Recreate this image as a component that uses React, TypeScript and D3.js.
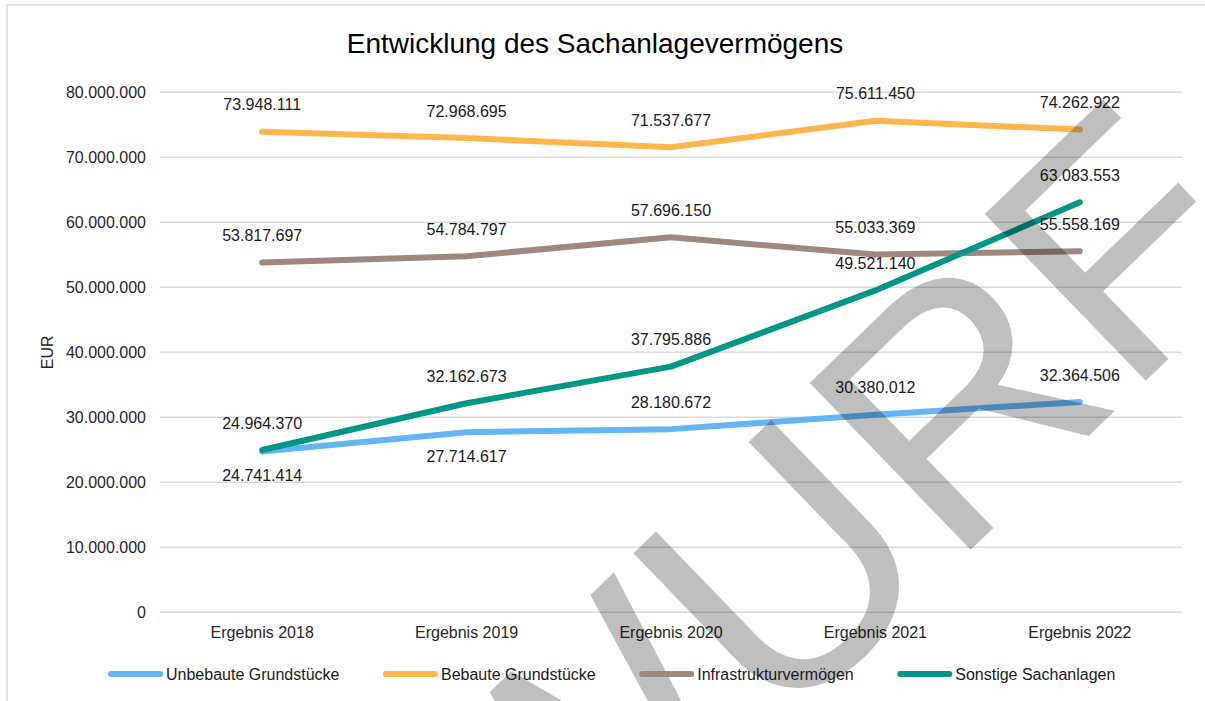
import React, { useEffect, useRef } from "react";
import * as d3 from "d3";

const categories = ["Ergebnis 2018", "Ergebnis 2019", "Ergebnis 2020", "Ergebnis 2021", "Ergebnis 2022"];
const seriesNames = ["Unbebaute Grundstücke", "Bebaute Grundstücke", "Infrastrukturvermögen", "Sonstige Sachanlagen"];
const unbebaute = [24741414, 27714617, 28180672, 30380012, 32364506];
const bebaute = [73948111, 72968695, 71537677, 75611450, 74262922];
const infrastruktur = [53817697, 54784797, 57696150, 55033369, 55558169];
const sonstige = [24964370, 32162673, 37795886, 49521140, 63083553];
const labelBelow = [[true, true, false, false, false], [false, false, false, false, false], [false, false, false, false, false], [false, false, false, false, false]];
const yTicks = [0, 10000000, 20000000, 30000000, 40000000, 50000000, 60000000, 70000000, 80000000];
const colors = ["#64B5F6", "#FFB74D", "#A1887F", "#009688"];
const title = "Entwicklung des Sachanlagevermögens";
const yTitle = "EUR";
const watermark = "ENTWURF";

const FONT = "'Liberation Sans', Arial, sans-serif";

export default function App() {
  const ref = useRef<SVGSVGElement | null>(null);

  useEffect(() => {
    const svg = d3.select(ref.current);
    svg.selectAll("*").remove();
    const W = 1205, H = 701;
    const left = 160, right = 1182, top = 92.3, bottom = 612.3;
    const x = d3.scalePoint<string>().domain(categories).range([left, right]).padding(0.5);
    const y = d3.scaleLinear().domain([0, 80000000]).range([bottom, top]);
    const loc = d3.formatLocale({ decimal: ",", thousands: ".", grouping: [3], currency: ["", "€"] });
    const fmt = loc.format(",d");
    const data = [unbebaute, bebaute, infrastruktur, sonstige];

    svg.append("rect").attr("width", W).attr("height", H).attr("fill", "#fff");
    svg.append("rect").attr("x", 7).attr("y", 5).attr("width", 1250).attr("height", 760)
      .attr("fill", "none").attr("stroke", "#d9d9d9").attr("stroke-width", 1.5);

    svg.append("text").attr("x", 595).attr("y", 53).attr("text-anchor", "middle")
      .attr("font-family", FONT).attr("font-size", 28).attr("fill", "#000").text(title);

    const g = svg.append("g");
    g.selectAll("line.grid").data(yTicks).join("line")
      .attr("x1", left).attr("x2", right)
      .attr("y1", (d) => y(d)).attr("y2", (d) => y(d))
      .attr("stroke", "#d9d9d9").attr("stroke-width", 1.5);

    g.selectAll("text.yt").data(yTicks).join("text")
      .attr("x", 146).attr("y", (d) => y(d)).attr("dy", "0.35em")
      .attr("text-anchor", "end").attr("font-family", FONT).attr("font-size", 16)
      .attr("fill", "#262626").text((d) => fmt(d));

    g.selectAll("text.xt").data(categories).join("text")
      .attr("x", (d) => x(d) as number).attr("y", 632).attr("dy", "0.35em")
      .attr("text-anchor", "middle").attr("font-family", FONT).attr("font-size", 16)
      .attr("fill", "#262626").text((d) => d);

    svg.append("text").attr("transform", `translate(47,${(top + bottom) / 2}) rotate(-90)`)
      .attr("dy", "0.35em").attr("text-anchor", "middle").attr("font-family", FONT)
      .attr("font-size", 16).attr("fill", "#262626").text(yTitle);

    const line = d3.line<number>()
      .x((_, i) => x(categories[i]) as number)
      .y((d) => y(d))
      .curve(d3.curveLinear);

    data.forEach((vals, si) => {
      g.append("path").attr("d", line(vals) as string).attr("fill", "none")
        .attr("stroke", colors[si]).attr("stroke-width", 6)
        .attr("stroke-linecap", "round").attr("stroke-linejoin", "round");
    });

    // watermark
    svg.append("text").attr("transform", "translate(1274,257) rotate(-44)")
      .attr("text-anchor", "end").attr("font-family", FONT)
      .attr("font-size", 337).attr("fill", "#000").attr("fill-opacity", 0.25).text(watermark);

    data.forEach((vals, si) => {
      g.append("g").selectAll("text").data(vals).join("text")
        .attr("x", (_, i) => x(categories[i]) as number)
        .attr("y", (d, i) => y(d) + (labelBelow[si][i] ? 24 : -27))
        .attr("dy", "0.35em").attr("text-anchor", "middle").attr("font-family", FONT)
        .attr("font-size", 16).attr("fill", "#1a1a1a").text((d) => fmt(d));
    });

    // legend
    const lg = svg.append("g");
    let cx = 108;
    const ly = 674;
    seriesNames.forEach((name, i) => {
      lg.append("line").attr("x1", cx + 3).attr("x2", cx + 52).attr("y1", ly).attr("y2", ly)
        .attr("stroke", colors[i]).attr("stroke-width", 6).attr("stroke-linecap", "round");
      const t = lg.append("text").attr("x", cx + 58).attr("y", ly).attr("dy", "0.35em")
        .attr("font-family", FONT).attr("font-size", 16).attr("fill", "#1a1a1a").text(name);
      const w = (t.node() as SVGTextElement).getComputedTextLength();
      cx = cx + 58 + w + 43.5;
    });
  }, []);

  return (
    <svg ref={ref} width={1205} height={701} style={{ position: "absolute", left: 0, top: 0 }} />
  );
}
